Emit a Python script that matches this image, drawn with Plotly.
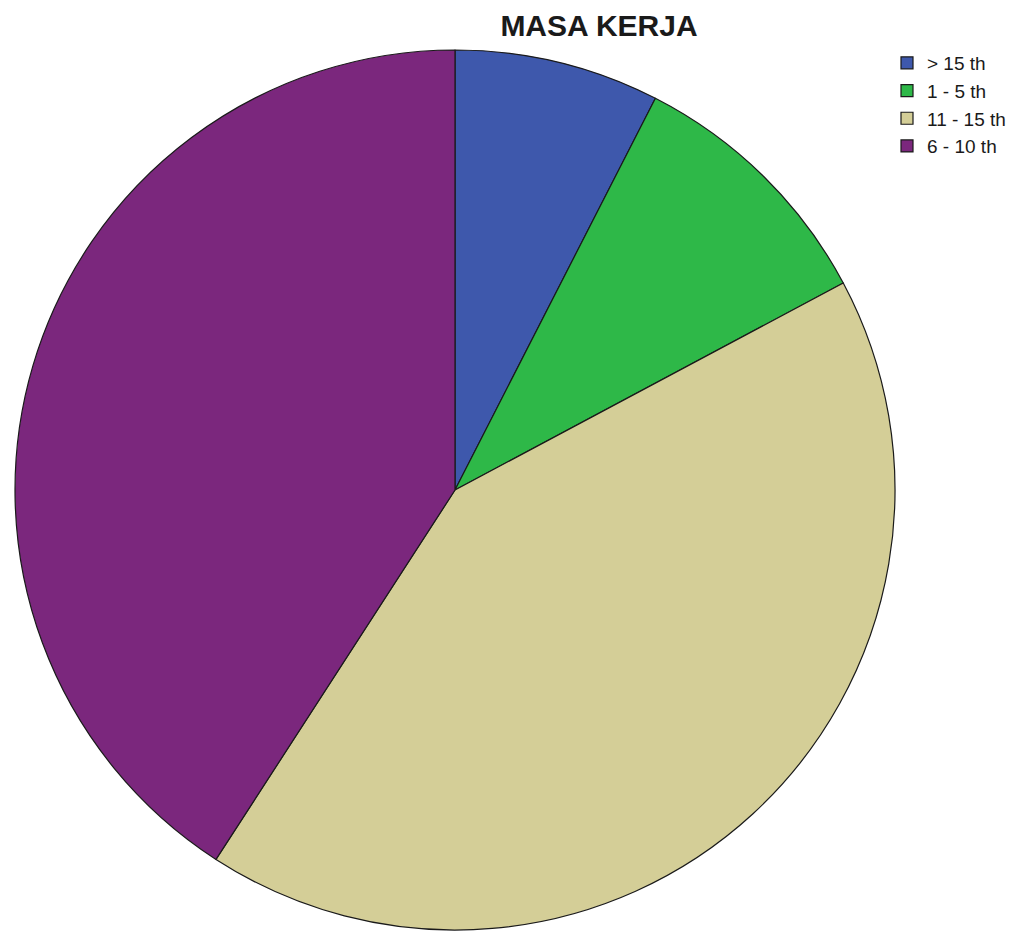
import plotly.graph_objects as go

labels = ["> 15 th", "1 - 5 th", "11 - 15 th", "6 - 10 th"]
counts = [7, 9, 39, 38]
colors = ["#3E58AC", "#2EB848", "#D4CE97", "#7B277D"]
title = "MASA KERJA"

W, H = 1022, 933
cx, cy, r = 455, 490, 440

fig = go.Figure(go.Pie(
    labels=labels,
    values=counts,
    sort=False,
    direction="clockwise",
    rotation=0,
    textinfo="none",
    hoverinfo="label+value+percent",
    marker=dict(colors=colors, line=dict(color="#1a1a1a", width=1.2)),
    domain=dict(x=[(cx - r) / W, (cx + r) / W], y=[(H - cy - r) / H, (H - cy + r) / H]),
))

fig.update_layout(
    width=W, height=H,
    margin=dict(l=0, r=0, t=0, b=0),
    paper_bgcolor="white",
    plot_bgcolor="white",
    title=dict(text="<b>" + title + "</b>", x=599 / W, xanchor="center", y=1 - 25 / H, yanchor="middle",
               font=dict(family="Liberation Sans, Arial", size=30, color="#1a1a1a")),
    legend=dict(x=887 / W, xanchor="left", y=1 - 44 / H, yanchor="top",
                font=dict(family="Liberation Sans, Arial", size=19, color="#1a1a1a"),
                itemwidth=30, tracegroupgap=0, bgcolor="rgba(0,0,0,0)"),
    showlegend=True,
)

fig.write_html("out.html")
